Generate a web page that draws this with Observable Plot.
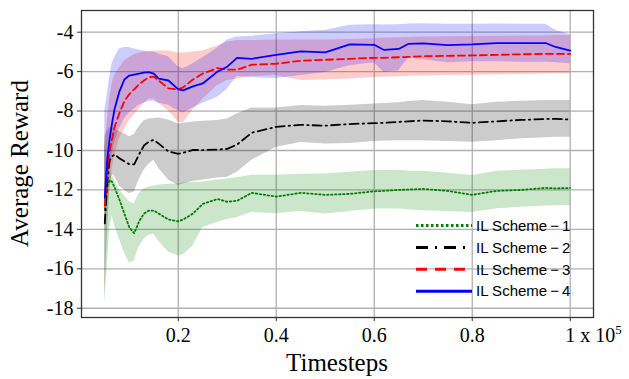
<!DOCTYPE html>
<html>
<head>
<meta charset="utf-8">
<script src="https://cdn.jsdelivr.net/npm/d3@7"></script>
<script src="https://cdn.jsdelivr.net/npm/@observablehq/plot@0.6"></script>
<style>
  html, body { margin: 0; padding: 0; background: white; }
  #chart svg { display: block; }
</style>
</head>
<body>
<div id="chart"></div>
<script>
// ---- Data (timesteps in units of 1e5) ----
const timesteps = [0.05, 0.055, 0.06, 0.065, 0.07, 0.08, 0.09, 0.10, 0.11, 0.12, 0.13, 0.14, 0.15, 0.16, 0.18, 0.20, 0.21, 0.23, 0.25, 0.28, 0.30, 0.32, 0.35, 0.40, 0.45, 0.50, 0.55, 0.60, 0.62, 0.65, 0.67, 0.70, 0.75, 0.80, 0.85, 0.90, 0.95, 0.97, 1.00];

const scheme1Mean = [-13.0, -11.8, -11.5, -11.6, -11.87, -12.5, -13.2, -13.9, -14.2, -13.6, -13.2, -13.05, -13.05, -13.2, -13.5, -13.59, -13.5, -13.2, -12.71, -12.46, -12.6, -12.55, -12.15, -12.34, -12.15, -12.25, -12.2, -12.07, -12.05, -12.0, -11.98, -11.95, -12.05, -12.25, -12.05, -12.0, -11.9, -11.92, -11.9];
const scheme1High = [-9.5, -10.5, -11.0, -11.2, -11.5, -12.0, -12.3, -12.6, -12.7, -12.2, -11.95, -11.85, -11.8, -11.75, -11.72, -11.7, -11.65, -11.62, -11.6, -11.5, -11.44, -11.38, -11.25, -11.25, -11.2, -11.19, -11.1, -11.02, -11.02, -11.0, -11.05, -11.05, -11.15, -11.27, -11.05, -11.0, -10.95, -10.93, -10.93];
const scheme1Low = [-17.8, -16.0, -14.0, -13.3, -13.8, -14.5, -15.2, -15.7, -15.6, -14.9, -14.5, -14.3, -14.23, -14.6, -15.15, -15.35, -15.3, -14.85, -13.9, -13.65, -13.5, -13.4, -13.15, -13.2, -13.1, -13.22, -13.1, -12.97, -12.97, -12.97, -13.0, -13.05, -13.1, -13.14, -12.95, -12.88, -12.82, -12.8, -12.8];

const scheme2Mean = [-13.7, -11.6, -10.5, -10.3, -10.2, -10.4, -10.55, -10.7, -10.7, -10.2, -9.75, -9.55, -9.46, -9.65, -10.05, -10.17, -10.12, -9.97, -9.98, -9.95, -9.92, -9.7, -9.1, -8.8, -8.7, -8.74, -8.66, -8.61, -8.6, -8.55, -8.52, -8.48, -8.52, -8.6, -8.52, -8.45, -8.4, -8.4, -8.43];
const scheme2High = [-9.3, -9.0, -8.85, -8.85, -8.9, -9.05, -9.15, -9.3, -9.2, -8.8, -8.5, -8.4, -8.38, -8.35, -8.45, -8.65, -8.62, -8.55, -8.52, -8.48, -8.4, -8.15, -7.85, -7.85, -7.72, -7.75, -7.7, -7.64, -7.62, -7.58, -7.52, -7.47, -7.55, -7.68, -7.55, -7.5, -7.47, -7.47, -7.47];
const scheme2Low = [-17.5, -14.5, -12.0, -11.2, -11.3, -11.8, -12.0, -12.2, -12.1, -11.5, -11.0, -10.7, -10.5, -10.9, -11.5, -11.78, -11.7, -11.57, -11.5, -11.4, -11.36, -11.1, -10.5, -9.84, -9.6, -9.67, -9.65, -9.55, -9.52, -9.5, -9.5, -9.5, -9.55, -9.58, -9.5, -9.4, -9.35, -9.33, -9.33];

const scheme3Mean = [-12.8, -11.0, -10.0, -9.4, -8.8, -8.1, -7.5, -7.15, -6.9, -6.65, -6.45, -6.28, -6.25, -6.45, -6.85, -6.9, -6.8, -6.4, -6.1, -5.82, -5.9, -5.9, -5.65, -5.6, -5.45, -5.4, -5.35, -5.3, -5.3, -5.27, -5.25, -5.22, -5.2, -5.18, -5.15, -5.12, -5.1, -5.1, -5.1];
const scheme3High = [-10.0, -8.5, -7.4, -6.6, -6.2, -5.8, -5.45, -5.3, -5.15, -5.05, -5.0, -4.98, -4.97, -4.96, -4.96, -5.05, -5.05, -5.0, -4.95, -4.7, -4.5, -4.42, -4.42, -4.4, -4.4, -4.39, -4.37, -4.33, -4.3, -4.28, -4.27, -4.25, -4.23, -4.22, -4.2, -4.19, -4.18, -4.17, -4.17];
const scheme3Low = [-14.0, -13.0, -12.0, -11.0, -10.3, -9.4, -8.9, -8.5, -8.2, -7.9, -7.6, -7.4, -7.4, -7.6, -8.0, -8.55, -8.6, -7.95, -7.4, -6.7, -6.45, -6.37, -6.25, -6.2, -6.45, -6.43, -6.38, -6.3, -6.28, -6.26, -6.24, -6.22, -6.2, -6.18, -6.16, -6.14, -6.12, -6.11, -6.11];

const scheme4Mean = [-12.4, -10.5, -9.4, -8.6, -7.9, -7.0, -6.4, -6.2, -6.15, -6.1, -6.05, -6.03, -6.1, -6.35, -6.45, -6.9, -6.95, -6.75, -6.6, -6.0, -5.75, -5.3, -5.35, -5.15, -4.97, -5.02, -4.62, -4.64, -4.9, -4.85, -4.59, -4.57, -4.66, -4.62, -4.55, -4.55, -4.55, -4.75, -4.93];
const scheme4High = [-8.0, -7.2, -6.3, -5.6, -5.3, -4.85, -4.78, -4.78, -4.85, -4.9, -4.95, -5.0, -5.0, -5.1, -5.25, -5.75, -5.85, -5.6, -5.3, -4.8, -4.4, -4.25, -4.2, -4.08, -3.98, -3.9, -3.65, -3.62, -3.63, -3.62, -3.58, -3.57, -3.6, -3.6, -3.58, -3.6, -3.6, -3.9, -4.13];
const scheme4Low = [-13.0, -12.0, -11.0, -10.2, -9.6, -8.9, -8.4, -8.1, -7.9, -7.7, -7.6, -7.5, -7.5, -7.6, -7.7, -8.0, -8.1, -7.85, -7.6, -7.3, -6.9, -6.25, -6.3, -6.35, -6.2, -6.05, -5.7, -5.55, -6.05, -5.95, -5.3, -5.4, -5.55, -5.5, -5.5, -5.52, -5.52, -5.55, -5.6];

const seriesNames = ["IL Scheme\u2009\u2212\u20091", "IL Scheme\u2009\u2212\u20092", "IL Scheme\u2009\u2212\u20093", "IL Scheme\u2009\u2212\u20094"];

const xTicks = [0.2, 0.4, 0.6, 0.8, 1.0];
const xTickLabels = ["0.2", "0.4", "0.6", "0.8", "1 x 10"];
const xExponent = "5";
const yTicks = [-18, -16, -14, -12, -10, -8, -6, -4];
const yTickLabels = ["-18", "-16", "-14", "-12", "-10", "-8", "-6", "-4"];
const xLabel = "Timesteps";
const yLabel = "Average Reward";

// ---- Styles ----
const styles = [
  {color: "#008000", dash: "1.5,2.5", legendDash: "2.5,2.5"},
  {color: "#000000", dash: "9,4,1.5,4", legendDash: "12,7,2,7"},
  {color: "#ff0000", dash: "7,4", legendDash: "11,8"},
  {color: "#0000ff", dash: null, legendDash: null}
];

const raw = [
  [scheme1Mean, scheme1Low, scheme1High],
  [scheme2Mean, scheme2Low, scheme2High],
  [scheme3Mean, scheme3Low, scheme3High],
  [scheme4Mean, scheme4Low, scheme4High]
];
const series = raw.map(([m, lo, hi]) => timesteps.map((t, i) => ({t, mean: m[i], lo: lo[i], hi: hi[i]})));

const xTickText = new Map(xTicks.map((d, i) => [d, xTickLabels[i]]));
const yTickText = new Map(yTicks.map((d, i) => [d, yTickLabels[i]]));

const marks = [
  Plot.gridX(xTicks, {stroke: "#b0b0b0", strokeOpacity: 1, strokeWidth: 1.3}),
  Plot.gridY(yTicks, {stroke: "#b0b0b0", strokeOpacity: 1, strokeWidth: 1.3}),
];
series.forEach((data, k) => {
  marks.push(Plot.areaY(data, {x: "t", y1: "lo", y2: "hi", fill: styles[k].color, fillOpacity: 0.2}));
});
series.forEach((data, k) => {
  marks.push(Plot.lineY(data, {x: "t", y: "mean", stroke: styles[k].color, strokeWidth: 1.8, strokeDasharray: styles[k].dash || undefined}));
});
marks.push(Plot.frame({stroke: "#333", strokeWidth: 1.3}));
marks.push(Plot.axisX(xTicks, {tickFormat: d => xTickText.get(d), tickSize: 4, tickPadding: 6, fontSize: 20, label: null, stroke: "#333"}));
marks.push(Plot.axisY(yTicks, {tickFormat: d => yTickText.get(d), tickSize: 4, tickPadding: 4, fontSize: 20, label: null, stroke: "#333"}));

const chart = Plot.plot({
  width: 629,
  height: 379,
  marginLeft: 81,
  marginRight: 36,
  marginTop: 10,
  marginBottom: 62,
  x: {domain: [0.0025, 1.0475]},
  y: {domain: [-18.47, -2.9]},
  style: {fontFamily: "'Liberation Serif', 'Times New Roman', serif", color: "black", background: "white"},
  marks
});
document.getElementById("chart").appendChild(chart);

const svg = d3.select(chart);
// exponent on last x tick label
svg.selectAll("text").filter(function() { return this.textContent === xTickLabels[xTickLabels.length - 1]; })
  .each(function() {
    const t = d3.select(this);
    t.attr("text-anchor", "start").attr("dx", -5);
    t.append("tspan").attr("dy", "-8").attr("font-size", 13).text(xExponent);
  });

// axis titles
svg.append("text")
  .attr("x", 337).attr("y", 371)
  .attr("text-anchor", "middle")
  .attr("font-size", 25).attr("font-family", "'Liberation Serif', serif")
  .attr("fill", "black")
  .text(xLabel);
svg.append("text")
  .attr("transform", "translate(28,163.5) rotate(-90)")
  .attr("text-anchor", "middle")
  .attr("font-size", 25).attr("font-family", "'Liberation Serif', serif")
  .attr("fill", "black")
  .text(yLabel);

// legend (lower right, no frame)
const legend = svg.append("g")
  .attr("font-family", "'Liberation Sans', Arial, sans-serif")
  .attr("font-size", 15)
  .attr("text-anchor", "start");
seriesNames.forEach((name, k) => {
  const cy = 225.5 + 21.9 * k;
  legend.append("line")
    .attr("x1", 416).attr("x2", 472).attr("y1", cy).attr("y2", cy)
    .attr("stroke", styles[k].color).attr("stroke-width", 3)
    .attr("stroke-dasharray", styles[k].legendDash);
  legend.append("text")
    .attr("x", 476).attr("y", cy + 5.2)
    .attr("text-anchor", "start")
    .attr("fill", "black")
    .text(name);
});
</script>
</body>
</html>
